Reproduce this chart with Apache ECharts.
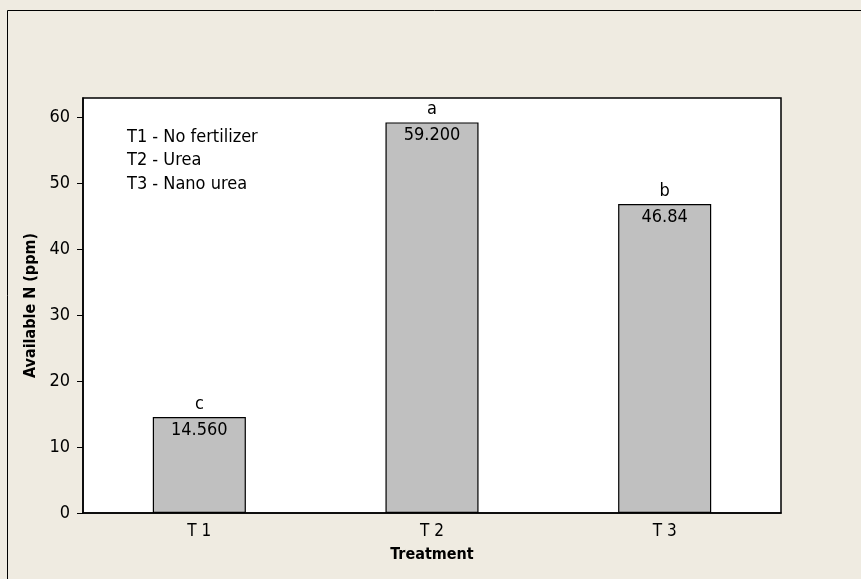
<!DOCTYPE html>
<html>
<head>
<meta charset="utf-8">
<script src="https://cdn.jsdelivr.net/npm/echarts@6/dist/echarts.min.js"></script>
<style>
html,body{margin:0;padding:0;background:#EFEBE1;}
#chart{width:861px;height:579px;}
</style>
</head>
<body>
<div id="chart"></div>
<script>
const categories = ['T 1', 'T 2', 'T 3'];
const values = [14.56, 59.2, 46.84];
const valueLabels = ['14.560', '59.200', '46.84'];
const letters = ['c', 'a', 'b'];
const yTicks = [0, 10, 20, 30, 40, 50, 60];
const legendLines = ['T1 - No fertilizer', 'T2 - Urea', 'T3 - Nano urea'];

const FONT = '"DejaVu Sans Condensed", "DejaVu Sans", sans-serif';
const chart = echarts.init(document.getElementById('chart'), null, {renderer: 'canvas'});

const option = {
  backgroundColor: '#EFEBE1',
  animation: false,
  textStyle: {fontFamily: FONT},
  grid: {
    left: 83, right: 80, top: 98, bottom: 66,
    show: true, backgroundColor: '#FFFFFF', borderColor: '#000000', borderWidth: 1.5
  },
  graphic: [
    {type: 'rect', x: 0, y: 0, shape: {x: 7.5, y: 10.5, width: 900, height: 700},
     style: {fill: 'none', stroke: '#000000', lineWidth: 1}, z: -1, silent: true},
    {type: 'group', left: 127, top: 128, children: legendLines.map((t, i) => ({
      type: 'text', x: 0, y: i * 23.5,
      style: {text: t, fill: '#000', font: '18px ' + FONT}
    }))}
  ],
  xAxis: {
    type: 'category',
    data: categories,
    boundaryGap: true,
    name: 'Treatment',
    nameLocation: 'middle',
    nameGap: 34,
    nameTextStyle: {fontFamily: FONT, fontWeight: 'bold', fontSize: 16, color: '#000'},
    axisLine: {lineStyle: {color: '#000', width: 1.5}},
    axisTick: {alignWithLabel: true, length: 5, lineStyle: {color: '#000'}},
    axisLabel: {color: '#000', fontSize: 17, margin: 10, fontFamily: FONT},
    splitLine: {show: false}
  },
  yAxis: {
    type: 'value',
    min: 0, max: 62.9,
    name: 'Available N (ppm)',
    nameLocation: 'middle',
    nameGap: 44,
    nameTextStyle: {fontFamily: FONT, fontWeight: 'bold', fontSize: 16, color: '#000'},
    axisLine: {show: true, lineStyle: {color: '#000', width: 1.5}},
    axisTick: {show: true, length: 6, customValues: yTicks, lineStyle: {color: '#000'}},
    axisLabel: {color: '#000', fontSize: 18, margin: 13, customValues: yTicks, fontFamily: FONT},
    splitLine: {show: false}
  },
  series: [
    {
      type: 'bar',
      data: values,
      barWidth: '40%',
      barGap: '-100%',
      itemStyle: {color: '#C0C0C0', borderColor: '#000', borderWidth: 1.2},
      label: {
        show: true, position: 'insideTop', distance: 4,
        fontSize: 18, color: '#000', fontFamily: FONT,
        formatter: p => valueLabels[p.dataIndex]
      }
    },
    {
      type: 'bar',
      data: values,
      barWidth: '40%',
      barGap: '-100%',
      itemStyle: {color: 'transparent', borderWidth: 0},
      label: {
        show: true, position: 'top', distance: 4,
        fontSize: 18, color: '#000', fontFamily: FONT,
        formatter: p => letters[p.dataIndex]
      },
      z: 3
    }
  ]
};
chart.setOption(option);
</script>
</body>
</html>
